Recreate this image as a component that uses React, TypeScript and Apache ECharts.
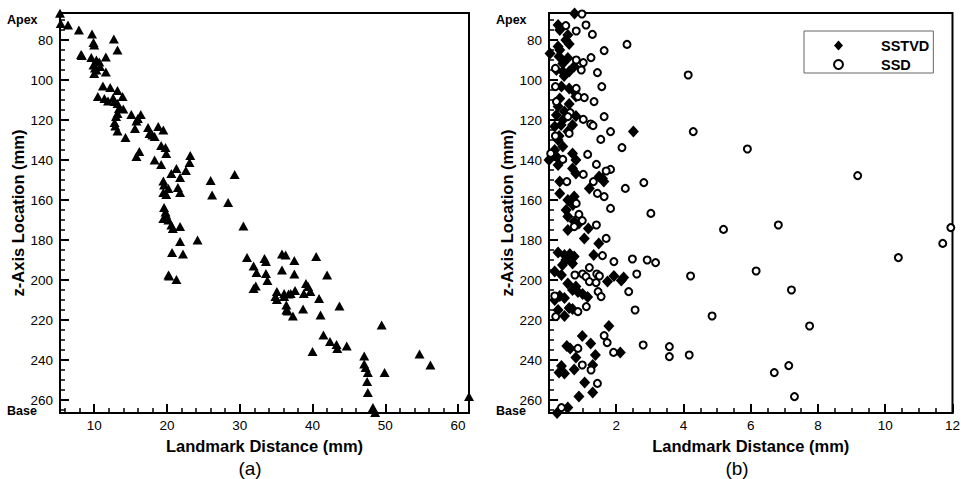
import React, { useEffect, useRef } from "react";
import * as echarts from "echarts";

const FONT = '"Liberation Sans", Arial, Helvetica, sans-serif';

// ---- axis ranges / ticks ----
const Y_MIN = 66.5;
const Y_MAX = 266.5;
const yMajorTicks = [80, 100, 120, 140, 160, 180, 200, 220, 240, 260];
const yMinorTicks = [70, 75, 85, 90, 95, 105, 110, 115, 125, 130, 135, 145, 150, 155, 165, 170, 175, 185, 190, 195, 205, 210, 215, 225, 230, 235, 245, 250, 255, 265];
const endLabelValues = [70, 265.5];
const endLabelTexts = ["Apex", "Base"];

const XA_MIN = 5.3;
const XA_MAX = 61.5;
const xaMajorTicks = [10, 20, 30, 40, 50, 60];
const xaMinorTicks = [6, 8, 12, 14, 16, 18, 22, 24, 26, 28, 32, 34, 36, 38, 42, 44, 46, 48, 52, 54, 56, 58];

const XB_MIN = 0;
const XB_MAX = 12;
const xbMajorTicks = [2, 4, 6, 8, 10, 12];
const xbMinorTicks = [0.5, 1, 1.5, 2.5, 3, 3.5, 4.5, 5, 5.5, 6.5, 7, 7.5, 8.5, 9, 9.5, 10.5, 11, 11.5];

// ---- panel (a): landmark distance vs z location ----
const panelA: [number, number][] = [
  [5.3, 66.6], [5.4, 71.7], [6.4, 72.5], [7.9, 75], [9.7, 77], [12.7, 79.5], [9.9, 81.3], [10, 82.5], [13.2, 85],
  [8.2, 87.2], [8.3, 87.8], [9.6, 88.7], [11.6, 88.5], [10.3, 90], [10.7, 91], [9.9, 92.5], [10.8, 93.3], [10.1, 94],
  [10.3, 95], [10, 96.7], [11.6, 96], [11.2, 103], [12.2, 103.7], [13.2, 105.3], [10.5, 108.3], [11.4, 109.3],
  [12.6, 109], [13.9, 108.3], [11.9, 110.5], [12.8, 110.8], [13.2, 111.7], [13.4, 114.2], [14, 114.5], [13.2, 116.7],
  [13, 118.3], [15.1, 117.2], [16.4, 117.2], [16, 119.2], [15.8, 120.5], [15.6, 124.2], [12.8, 121.2], [12.9, 123],
  [13.2, 125.5], [14.3, 128.8], [17.4, 123.8], [18.8, 123.3], [19.5, 125], [17.6, 126.7], [18, 127.5], [18.3, 128.3],
  [19.2, 132.8], [19.8, 133.8], [19.9, 136.7], [16.2, 135.8], [15.8, 138.3], [18.3, 140], [19.2, 142.2], [23.2, 137.8],
  [23.1, 141.2], [21.3, 144.2], [22.6, 145.3], [20.6, 146.7], [21.8, 148.7], [29.3, 147.2], [19.5, 150.5], [26, 150.3],
  [19.6, 152.5], [21.5, 153.7], [20.2, 154.2], [19.5, 156.3], [21.8, 156.3], [19.9, 157.2], [26.2, 157.5], [28.4, 161.3],
  [19.6, 163.7], [19.8, 166], [19.9, 167.5], [19.5, 169.2], [20.2, 170], [20.6, 172.5], [20.8, 174.2], [21.8, 173.3],
  [30.5, 173], [21.8, 180.8], [24.2, 180], [20.7, 186.2], [22.2, 187], [20.2, 197.5], [20.3, 198], [21.3, 199.7],
  [31, 188.7], [31.9, 193], [32.3, 196.3], [31.9, 204.2], [32.2, 203], [33.4, 189.2], [33.6, 190.8], [33.6, 196.7],
  [33.8, 200.3], [35.8, 187], [36.3, 187.5], [37.5, 190.3], [35.8, 195], [37.5, 197], [40.5, 188.3], [42, 197.5],
  [39.1, 201.7], [39.4, 203.3], [39.7, 205.8], [38.8, 206.7], [37.6, 205.3], [37, 206.7], [36.1, 206.7], [35.1, 205.8],
  [34.9, 208.3], [35.1, 209.7], [36.1, 208.3], [36.7, 207], [36.4, 212.5], [36.4, 215], [36.6, 215.5], [37.3, 218],
  [38.7, 214.5], [40.9, 209.2], [43.7, 213], [41.1, 217.5], [41.5, 227.5], [42.4, 230.8], [43.3, 232.2], [43.4, 234.2],
  [44.7, 233], [40, 235.8], [49.5, 222.5], [47.1, 238], [47.1, 242], [47.3, 243.8], [47.6, 246.2], [49.9, 246.2],
  [54.7, 237], [56.2, 242.5], [47.5, 250.8], [47.6, 256.2], [48.3, 263.7], [48.6, 266.2], [61.5, 258.3],
];

// ---- panel (b): SSTVD ----
const sstvd: [number, number][] = [
  [0.76, 66.7], [0.27, 72.5], [0.32, 75], [0.56, 77.5], [0.5, 80], [0.6, 82], [0.27, 83.3], [0.32, 85], [0.03, 86.7],
  [0.3, 88.3], [0.56, 89], [0.41, 91.7], [0.22, 95], [0.41, 95.8], [0.6, 95.8], [0.75, 93.3], [0.45, 98], [0.37, 103.3],
  [0.6, 104.2], [0.75, 105.8], [0.8, 108.3], [0.32, 109.2], [0.6, 112], [0.27, 113.3], [0.46, 115.8], [0.22, 117.5],
  [0.8, 118], [0.41, 120], [0.17, 123.3], [0.36, 122.5], [0.7, 122.5], [2.51, 125.8], [0.56, 125.8], [0.3, 128],
  [0.27, 130], [0.41, 133.3], [0.17, 135], [0.0, 140], [0.22, 138.3], [0.27, 142.5], [0.7, 136.7], [0.8, 140],
  [0.7, 144.2], [0.8, 146.7], [1.59, 149.2], [1.63, 150.8], [1.49, 148.3], [0.32, 150.8], [1.2, 154.2], [0.32, 156.7],
  [0.75, 158.3], [0.56, 160], [0.71, 162.5], [0.51, 165], [0.56, 168.3], [0.75, 170.8], [0.89, 171.7], [0.56, 175],
  [1.17, 174.2], [1.05, 179.2], [1.48, 181.7], [0.27, 186.3], [0.46, 187.5], [0.62, 187], [0.75, 188.3], [0.5, 190],
  [0.7, 191.7], [0.4, 192.5], [1.33, 187.5], [0.17, 195.8], [0.37, 197.5], [1.93, 198], [1.74, 200.8], [2.15, 200.3],
  [2.22, 198.7], [0.56, 201.7], [0.8, 203.3], [0.7, 205], [0.86, 206], [1.0, 207], [1.15, 208.5], [0.17, 210],
  [0.46, 209], [0.32, 208], [0.27, 215], [0.6, 214], [0.7, 214.5], [0.46, 218], [1.78, 223], [0.99, 228], [1.24, 231.7],
  [0.53, 233], [0.63, 234.2], [1.38, 237.5], [0.8, 238.7], [2.12, 236.2], [0.37, 243], [1.3, 242.5], [0.75, 244.7],
  [0.3, 246.3], [0.46, 246.7], [1.06, 251.3], [1.3, 256.3], [0.89, 258.3], [0.56, 263.8], [0.24, 266.5],
];

// ---- panel (b): SSD ----
const ssd: [number, number][] = [
  [0.98, 67], [0.5, 72.8], [1.1, 72.5], [0.81, 75.5], [1.29, 77.2], [2.32, 82.2], [1.64, 85.3], [1.25, 88.8],
  [1.02, 91.3], [0.81, 90], [0.96, 95], [0.19, 94.2], [1.44, 96.3], [4.14, 97.5], [1.57, 103.3], [0.19, 103.3],
  [0.81, 104.2], [0.86, 108.3], [1.05, 108.8], [1.34, 110.8], [0.22, 110.8], [0.63, 116.3], [0.56, 118.3],
  [1.64, 118.3], [1.02, 119.7], [1.24, 122], [1.31, 122.8], [0.19, 128], [1.83, 125.8], [4.29, 125.8], [0.6, 126.7],
  [1.54, 129.7], [2.17, 133.8], [5.9, 134.5], [0.05, 136.7], [0.41, 139.7], [1.15, 137.2], [1.41, 142.2],
  [1.83, 144.7], [1.7, 145.5], [1.02, 147.2], [9.18, 147.8], [1.32, 150.8], [0.53, 150.8], [2.82, 151.3],
  [2.27, 154.2], [1.44, 156.7], [1.64, 158.3], [0.81, 161.7], [1.83, 164.2], [3.03, 166.7], [0.89, 167.2],
  [0.99, 170.3], [1.41, 172.5], [0.75, 173.3], [6.82, 172.5], [5.19, 174.7], [11.95, 173.8], [1.7, 179.2],
  [11.71, 181.7], [1.59, 187.8], [1.93, 190.8], [2.48, 189.5], [2.92, 190], [3.17, 191.3], [10.39, 188.8],
  [1.2, 193.8], [2.61, 197], [4.21, 198], [6.16, 195.5], [0.77, 197.5], [1.0, 197], [1.1, 198.3], [1.42, 197],
  [1.5, 198], [1.2, 200.8], [1.4, 201.3], [2.37, 205.8], [1.46, 205.8], [1.55, 208.3], [0.17, 208], [7.21, 205],
  [1.11, 213.3], [0.86, 215.8], [2.56, 215], [0.2, 218.3], [4.85, 218], [7.75, 223], [1.64, 227.8], [1.73, 231.3],
  [2.8, 232.5], [1.92, 236.2], [3.58, 233.3], [3.58, 238.3], [4.17, 237.5], [0.86, 234.2], [0.99, 242.5],
  [1.25, 245], [7.13, 242.8], [6.7, 246.3], [1.44, 251.7], [7.3, 258.3], [0.37, 263.8],
];

const panelLetters = ["(a)", "(b)"];
const xTitle = "Landmark Distance (mm)";
const yTitle = "z-Axis Location (mm)";

const GRID_TOP = 13;
const GRID_H = 400;
const GRID_W = 409;
const GRID_LEFTS = [60, 549];

function xAxes(gi: number, min: number, max: number, major: number[], minor: number[]) {
  return [
    {
      type: "value", gridIndex: gi, min, max, position: "bottom",
      name: xTitle, nameLocation: "middle", nameGap: 24,
      nameTextStyle: { fontFamily: FONT, fontWeight: "bold", fontSize: 16.5, color: "#000" },
      axisLine: { show: true, onZero: false, lineStyle: { color: "#000", width: 2 } },
      axisTick: { show: true, inside: true, length: 9, customValues: major, lineStyle: { color: "#000", width: 2 } },
      axisLabel: { show: true, customValues: major, margin: 5, fontFamily: FONT, fontSize: 13.5, color: "#000" },
      splitLine: { show: false },
    },
    {
      type: "value", gridIndex: gi, min, max, position: "bottom",
      axisLine: { show: false },
      axisTick: { show: true, inside: true, length: 5, customValues: minor, lineStyle: { color: "#000", width: 1.5 } },
      axisLabel: { show: false },
      splitLine: { show: false },
    },
  ];
}

function yAxes(gi: number) {
  return [
    {
      type: "value", gridIndex: gi, min: Y_MIN, max: Y_MAX, inverse: true, position: "left",
      name: yTitle, nameLocation: "middle", nameGap: 21, nameRotate: 90,
      nameTextStyle: { fontFamily: FONT, fontWeight: "bold", fontSize: 16.5, color: "#000" },
      axisLine: { show: true, onZero: false, lineStyle: { color: "#000", width: 2 } },
      axisTick: { show: true, inside: true, length: 9, customValues: yMajorTicks, lineStyle: { color: "#000", width: 2 } },
      axisLabel: { show: true, customValues: yMajorTicks, margin: 7, fontFamily: FONT, fontSize: 13.5, color: "#000" },
      splitLine: { show: false },
    },
    {
      type: "value", gridIndex: gi, min: Y_MIN, max: Y_MAX, inverse: true, position: "left",
      axisLine: { show: false },
      axisTick: { show: true, inside: true, length: 5, customValues: yMinorTicks, lineStyle: { color: "#000", width: 1.5 } },
      axisLabel: { show: false },
      splitLine: { show: false },
    },
    {
      type: "value", gridIndex: gi, min: Y_MIN, max: Y_MAX, inverse: true, position: "left",
      axisLine: { show: false },
      axisTick: { show: false },
      axisLabel: {
        show: true, customValues: endLabelValues, margin: 53, align: "left",
        fontFamily: FONT, fontSize: 12.5, fontWeight: "bold", color: "#000",
        formatter: (v: number) => {
          const i = endLabelValues.indexOf(v);
          return i >= 0 ? endLabelTexts[i] : "";
        },
      },
      splitLine: { show: false },
    },
  ];
}

export default function App() {
  const ref = useRef<HTMLDivElement>(null);
  useEffect(() => {
    if (!ref.current) return;
    const chart = echarts.init(ref.current, null, { renderer: "svg" });
    const option: any = {
      animation: false,
      backgroundColor: "#fff",
      grid: GRID_LEFTS.map((l) => ({
        left: l, top: GRID_TOP, width: GRID_W, height: GRID_H,
        show: true, borderColor: "#000", borderWidth: 2, backgroundColor: "transparent",
      })),
      xAxis: [
        ...xAxes(0, XA_MIN, XA_MAX, xaMajorTicks, xaMinorTicks),
        ...xAxes(1, XB_MIN, XB_MAX, xbMajorTicks, xbMinorTicks),
      ],
      yAxis: [...yAxes(0), ...yAxes(1)],
      legend: {
        data: ["SSTVD", "SSD"],
        orient: "vertical",
        left: 804, top: 31,
        padding: [7, 4, 1, 29],
        itemWidth: 9, itemHeight: 10, itemGap: 4,
        borderColor: "#666", borderWidth: 1,
        textStyle: { fontFamily: FONT, fontWeight: "bold", fontSize: 14.5, color: "#000", lineHeight: 14, padding: [0, 0, 0, 33] },
      },
      graphic: panelLetters.map((t, i) => ({
        type: "text",
        x: [250, 737][i],
        y: 468,
        style: { text: t, font: `19px ${FONT}`, fill: "#000", align: "center", verticalAlign: "middle", textAlign: "center", textVerticalAlign: "middle" },
      })),
      series: [
        {
          type: "scatter", name: "a", xAxisIndex: 0, yAxisIndex: 0, data: panelA,
          symbol: "triangle", symbolSize: [10, 9], itemStyle: { color: "#000", opacity: 1 }, clip: false,
        },
        {
          type: "scatter", name: "SSTVD", xAxisIndex: 2, yAxisIndex: 3, data: sstvd,
          symbol: "diamond", symbolSize: [11, 12], itemStyle: { color: "#000", opacity: 1 }, clip: false,
        },
        {
          type: "scatter", name: "SSD", xAxisIndex: 2, yAxisIndex: 3, data: ssd,
          symbol: "circle", symbolSize: 7,
          itemStyle: { color: "#fff", borderColor: "#000", borderWidth: 2, opacity: 1 }, clip: false,
        },
      ],
    };
    chart.setOption(option);
    return () => chart.dispose();
  }, []);
  return <div ref={ref} style={{ position: "fixed", left: 0, top: 0, width: 963, height: 479 }} />;
}
